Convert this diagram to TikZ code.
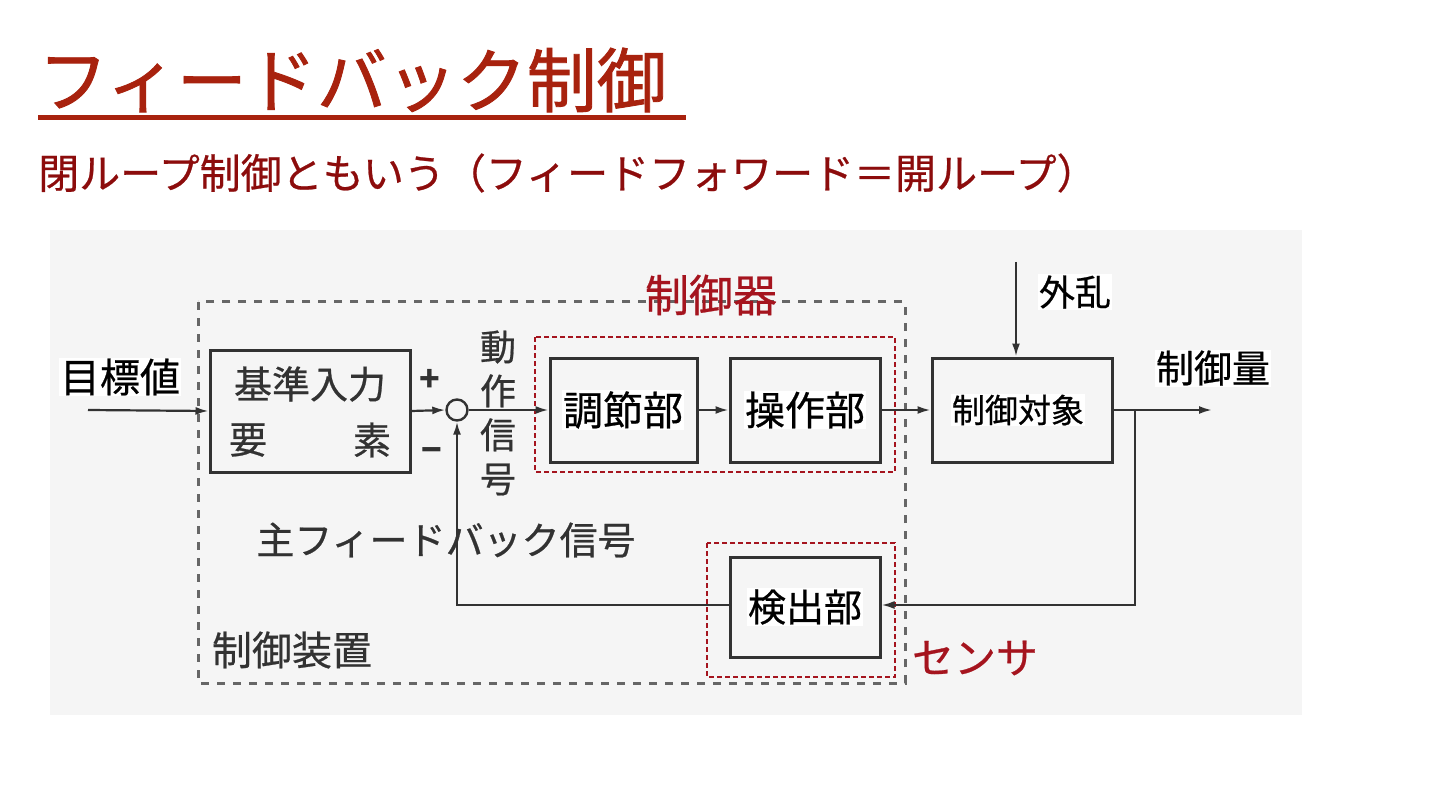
\documentclass[tikz,border=0pt]{standalone}
\usepackage{fontspec}
\setmainfont{Noto Sans CJK JP}
\newfontfamily\jpm[FakeBold=0.6]{Noto Sans CJK JP}
\newfontfamily\jpt[FakeBold=1.2]{Noto Sans CJK JP}
\usetikzlibrary{arrows.meta}
\definecolor{titlered}{RGB}{168,34,14}
\definecolor{subred}{RGB}{140,12,12}
\definecolor{boxred}{RGB}{165,20,30}
\definecolor{bgray}{RGB}{245,245,245}
\definecolor{ink}{RGB}{50,50,50}
\newcommand{\fs}[1]{\fontsize{#1}{#1}\selectfont}
\begin{document}
\begin{tikzpicture}[x=1pt,y=-1pt,
  blk/.style={draw=ink, line width=3pt, inner sep=0pt},
  arr/.style={draw=ink, line width=2.2pt, -{Latex[length=13pt,width=8pt]}},
  lab/.style={fill=white, inner sep=1pt, text=black},
  scan/.style={text=ink, inner sep=0pt},
  reddash/.style={draw=boxred, line width=1.4pt, dash pattern=on 5pt off 3pt},
  outerdash/.style={draw=black!60, line width=3pt, dash pattern=on 8pt off 8pt},
]
\useasboundingbox (0,0) rectangle (1440,810);
\fill[white] (0,0) rectangle (1440,810);
\fill[bgray] (50,230) rectangle (1302,715);

% titles
\node[anchor=west, inner sep=0pt, text=titlered, font=\jpt\fs{70}] (title) at (38,80) {フィードバック制御};
\draw[titlered, line width=5pt] (38,118) -- (686,118);
\node[anchor=west, inner sep=0pt, text=subred, font=\jpm\fs{41}] (subtitle) at (38,173) {閉ループ制御ともいう（フィードフォワード＝開ループ）};

% outer dashed box (control device)
\draw[outerdash] (198,302) rectangle (905,683);

% blocks
\node[blk, minimum width=200, minimum height=122] (ref) at (310,411) {};
\node[blk, circle, minimum size=21, line width=2.4pt] (sum) at (457,410) {};
\node[blk, minimum width=147, minimum height=104] (ctl) at (623.5,410) {};
\node[blk, minimum width=150, minimum height=104] (op) at (805,410) {};
\node[blk, minimum width=180, minimum height=104] (plant) at (1022,410) {};
\node[blk, minimum width=150, minimum height=100] (det) at (805,607) {};

% red dashed groups
\draw[reddash] (535,337) rectangle (895,472);
\draw[reddash] (707,543) rectangle (895,677);

% connectors
\coordinate (in) at (88,410);
\coordinate (dist) at (1016,262);
\coordinate (out) at (1212,410);
\coordinate (br) at (1135,410);
\coordinate (brd) at (1135,605);
\draw[arr] (in) -- (ref.west);
\draw[arr] (ref.east) -- (sum.west);
\draw[arr] (sum.east) -- (ctl.west);
\draw[arr] (ctl.east) -- (op.west);
\draw[arr] (op.east) -- (plant.west);
\draw[arr] (dist) -- (dist |- plant.north);
\draw[arr] (plant.east) -- (out);
\draw[arr] (br) -- (brd) -- (det.east |- brd);
\draw[arr] (det.west |- brd) -| (sum.south);

% scanned labels
\node[scan, font=\jpm\fs{38}] (ref1) at (310,384) {基準入力};
\node[scan, font=\jpm\fs{38}] (ref2) at (248,440) {要};
\node[scan, font=\jpm\fs{38}] (ref3) at (372,440) {素};
\node[scan, font=\bfseries\fs{34}] (plus) at (430,380) {+};
\node[scan, font=\bfseries\fs{34}] (minus) at (432,455) {−};
\node[scan, font=\jpm\fs{36}, align=center] (act) at (498,413) {動\\[8pt]作\\[8pt]信\\[8pt]号};
\node[scan, font=\jpm\fs{38}] (fbsig) at (446,540) {主フィードバック信号};
\node[scan, font=\jpm\fs{40}] (dev) at (292,650) {制御装置};

% overlay labels
\node[lab, font=\jpm\fs{40}] (goal) at (120,377) {目標値};
\node[lab, font=\jpm\fs{40}] (ctlt) at (623,410) {調節部};
\node[lab, font=\jpm\fs{40}] (opt) at (805,410) {操作部};
\node[lab, font=\jpm\fs{33}] (plantt) at (1018,410) {制御対象};
\node[lab, font=\jpm\fs{38}] (dett) at (805,607) {検出部};
\node[lab, font=\jpm\fs{36}] (distt) at (1075,292) {外乱};
\node[lab, font=\jpm\fs{38}] (outt) at (1213,368) {制御量};
\node[text=boxred, font=\jpm\fs{44}, inner sep=0pt] (ctrlr) at (711,295) {制御器};
\node[text=boxred, font=\jpm\fs{42}, inner sep=0pt] (sensor) at (975,658) {センサ};
\end{tikzpicture}
\end{document}
